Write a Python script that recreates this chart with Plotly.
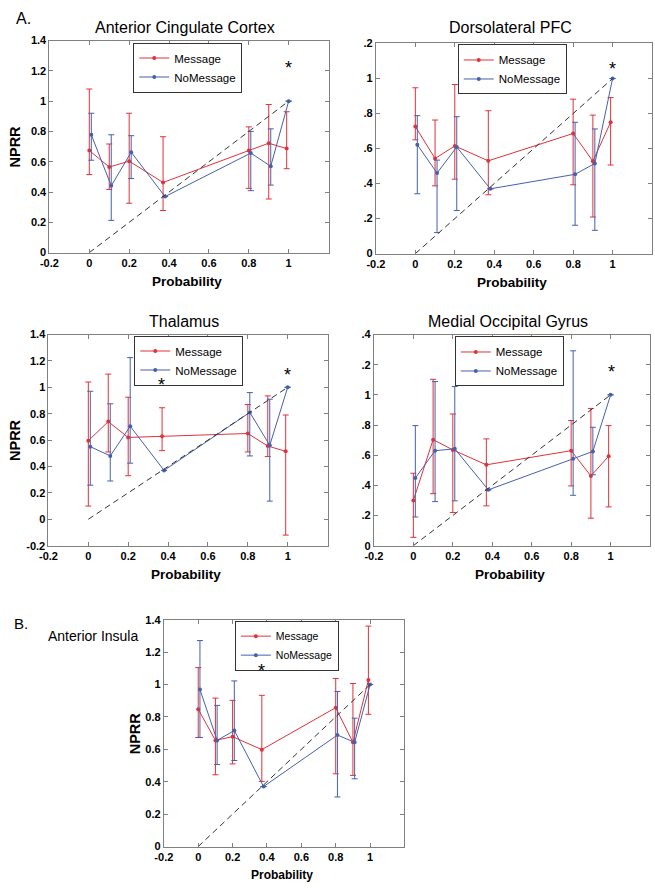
import plotly.graph_objects as go

# ---------------- data ----------------
prob_message = [0, 0.1, 0.2, 0.37, 0.8, 0.9, 0.99]
prob_nomessage = [0.01, 0.11, 0.21, 0.38, 0.81, 0.91, 1.0]
identity_x = [0, 1]
identity_y = [0, 1]

# Anterior Cingulate Cortex
acc_msg = [0.674, 0.565, 0.604, 0.463, 0.674, 0.722, 0.687]
acc_msg_hi = [1.08, 0.717, 0.92, 0.765, 0.83, 0.978, 0.93]
acc_msg_lo = [0.515, 0.417, 0.326, 0.278, 0.424, 0.354, 0.554]
acc_nomsg = [0.778, 0.441, 0.663, 0.37, 0.657, 0.57, 1.0]
acc_nomsg_hi = [0.92, 0.778, 0.772, 0.37, 0.80, 0.817, 1.0]
acc_nomsg_lo = [0.61, 0.213, 0.489, 0.37, 0.409, 0.446, 1.0]

# Dorsolateral PFC
dlpfc_msg = [0.726, 0.543, 0.615, 0.53, 0.686, 0.528, 0.75]
dlpfc_msg_hi = [0.947, 0.763, 0.966, 0.816, 0.882, 0.791, 0.891]
dlpfc_msg_lo = [0.65, 0.387, 0.425, 0.336, 0.393, 0.209, 0.506]
dlpfc_nomsg = [0.622, 0.46, 0.609, 0.37, 0.453, 0.515, 1.0]
dlpfc_nomsg_hi = [0.788, 0.534, 0.782, 0.37, 0.75, 0.712, 1.0]
dlpfc_nomsg_lo = [0.342, 0.12, 0.246, 0.37, 0.162, 0.133, 1.0]

# Thalamus
thal_msg = [0.595, 0.74, 0.62, 0.63, 0.65, 0.555, 0.515]
thal_msg_hi = [1.04, 1.10, 0.925, 0.845, 0.87, 0.935, 0.79]
thal_msg_lo = [0.10, 0.51, 0.33, 0.52, 0.51, 0.475, -0.12]
thal_nomsg = [0.55, 0.48, 0.705, 0.37, 0.81, 0.56, 1.0]
thal_nomsg_hi = [0.97, 0.875, 1.225, 0.37, 0.96, 0.91, 1.0]
thal_nomsg_lo = [0.258, 0.29, 0.425, 0.37, 0.48, 0.1375, 1.0]

# Medial Occipital Gyrus
mog_msg = [0.30, 0.703, 0.635, 0.536, 0.63, 0.462, 0.593]
mog_msg_hi = [0.48, 1.103, 0.873, 0.708, 0.83, 0.91, 0.796]
mog_msg_lo = [0.055, 0.345, 0.22, 0.264, 0.396, 0.182, 0.257]
mog_nomsg = [0.448, 0.63, 0.642, 0.37, 0.576, 0.625, 1.0]
mog_nomsg_hi = [0.796, 1.088, 1.055, 0.37, 1.292, 0.785, 1.0]
mog_nomsg_lo = [0.19, 0.292, 0.297, 0.37, 0.334, 0.47, 1.0]

# Anterior Insula
ai_msg = [0.847, 0.655, 0.678, 0.598, 0.857, 0.643, 1.027]
ai_msg_hi = [1.104, 0.916, 0.902, 0.933, 1.037, 1.006, 1.36]
ai_msg_lo = [0.673, 0.443, 0.51, 0.402, 0.449, 0.439, 0.816]
ai_nomsg = [0.969, 0.655, 0.716, 0.37, 0.688, 0.643, 1.0]
ai_nomsg_hi = [1.271, 0.871, 1.022, 0.37, 0.957, 0.792, 1.0]
ai_nomsg_lo = [0.673, 0.506, 0.531, 0.37, 0.306, 0.418, 1.0]

# significance stars (x, y) per panel
acc_stars = [(1.0, 1.22)]
dlpfc_stars = [(1.0, 1.055)]
thal_stars = [(0.368, 1.02), (1.0, 1.095)]
mog_stars = [(1.005, 1.15)]
ai_stars = [(0.37, 1.085)]

x_tickvals = [-0.2, 0, 0.2, 0.4, 0.6, 0.8, 1]
x_ticktext = ["-0.2", "0", "0.2", "0.4", "0.6", "0.8", "1"]

y_ticks_a = [0, 0.2, 0.4, 0.6, 0.8, 1, 1.2, 1.4]
y_text_a = ["0", "0.2", "0.4", "0.6", "0.8", "1", "1.2", "1.4"]
y_ticks_dlpfc = [0, 0.2, 0.4, 0.6, 0.8, 1, 1.2]
y_text_dlpfc = ["0", ".2", ".4", ".6", ".8", "1", ".2"]
y_ticks_thal = [-0.2, 0, 0.2, 0.4, 0.6, 0.8, 1, 1.2, 1.4]
y_text_thal = ["-0.2", "0", "0.2", "0.4", "0.6", "0.8", "1", "1.2", "1.4"]
y_text_mog = ["0", ".2", ".4", ".6", ".8", "1", ".2", ".4"]

# ---------------- styling ----------------
W, H = 655, 893
RED = "#e0323a"
BLUE = "#4561ad"
AXC = "#808080"
FONT = "Arial, Liberation Sans, sans-serif"


def fx(px):
    return px / W


def fy(py):
    return 1 - py / H


panels = [
    dict(title="Anterior Cingulate Cortex", box=(41, 35, 324, 250), yr=[0, 1.4],
         yt=(y_ticks_a, y_text_a), d=(acc_msg, acc_msg_hi, acc_msg_lo, acc_nomsg, acc_nomsg_hi, acc_nomsg_lo),
         stars=acc_stars, leg=(126, 37), ylab=True),
    dict(title="Dorsolateral PFC", box=(372, 38, 652, 251), yr=[0, 1.2],
         yt=(y_ticks_dlpfc, y_text_dlpfc), d=(dlpfc_msg, dlpfc_msg_hi, dlpfc_msg_lo, dlpfc_nomsg, dlpfc_nomsg_hi, dlpfc_nomsg_lo),
         stars=dlpfc_stars, leg=(455, 39), ylab=False),
    dict(title="Thalamus", box=(40, 333, 323, 547), yr=[-0.2, 1.4],
         yt=(y_ticks_thal, y_text_thal), d=(thal_msg, thal_msg_hi, thal_msg_lo, thal_nomsg, thal_nomsg_hi, thal_nomsg_lo),
         stars=thal_stars, leg=(127, 334), ylab=True),
    dict(title="Medial Occipital Gyrus", box=(370, 333, 650, 547), yr=[0, 1.4],
         yt=(y_ticks_a, y_text_mog), d=(mog_msg, mog_msg_hi, mog_msg_lo, mog_nomsg, mog_nomsg_hi, mog_nomsg_lo),
         stars=mog_stars, leg=(452, 335), ylab=False),
    dict(title="Anterior Insula", box=(157, 622, 401, 852), yr=[0, 1.4],
         yt=(y_ticks_a, y_text_a), d=(ai_msg, ai_msg_hi, ai_msg_lo, ai_nomsg, ai_nomsg_hi, ai_nomsg_lo),
         stars=ai_stars, leg=(229, 623), ylab=True),
]

fig = go.Figure()
annotations = []
layout = dict(
    width=W, height=H, margin=dict(l=0, r=0, t=0, b=0),
    paper_bgcolor="white", plot_bgcolor="white",
    font=dict(family=FONT, color="black"),
    showlegend=True,
)

for i, p in enumerate(panels, start=1):
    sx = "" if i == 1 else str(i)
    xa, ya = "x" + sx, "y" + sx
    lg = "legend" if i == 1 else "legend" + str(i)
    m, mhi, mlo, n, nhi, nlo = p["d"]
    is_b = (i == 5)

    fig.add_trace(go.Scatter(
        x=prob_message, y=m, mode="lines+markers", name="Message",
        line=dict(color=RED, width=1), marker=dict(color=RED, size=4),
        error_y=dict(type="data", symmetric=False,
                     array=[h - v for h, v in zip(mhi, m)],
                     arrayminus=[v - lo for v, lo in zip(m, mlo)],
                     color=RED, thickness=1, width=3),
        xaxis=xa, yaxis=ya, legend=lg))
    fig.add_trace(go.Scatter(
        x=prob_nomessage, y=n, mode="lines+markers", name="NoMessage",
        line=dict(color=BLUE, width=1), marker=dict(color=BLUE, size=4),
        error_y=dict(type="data", symmetric=False,
                     array=[h - v for h, v in zip(nhi, n)],
                     arrayminus=[v - lo for v, lo in zip(n, nlo)],
                     color=BLUE, thickness=1, width=3),
        xaxis=xa, yaxis=ya, legend=lg))
    fig.add_trace(go.Scatter(
        x=identity_x, y=identity_y, mode="lines", showlegend=False,
        line=dict(color="#333333", width=1, dash="6px,4px"),
        xaxis=xa, yaxis=ya))

    l, t, r, b = p["box"]
    axis_common = dict(showline=True, linecolor=AXC, linewidth=1, mirror="ticks",
                       ticks="inside", ticklen=4, tickcolor=AXC, showgrid=False,
                       zeroline=False, tickfont=dict(family=FONT, size=11, weight="bold"))
    layout["xaxis" + sx] = dict(domain=[fx(l), fx(r)], range=[-0.2, 1.2], anchor=ya,
                                tickmode="array", tickvals=x_tickvals, ticktext=x_ticktext,
                                **axis_common)
    layout["yaxis" + sx] = dict(domain=[fy(b), fy(t)], range=p["yr"], anchor=xa,
                                tickmode="array", tickvals=p["yt"][0], ticktext=p["yt"][1],
                                **axis_common)
    lx, ly = p["leg"]
    layout[lg] = dict(x=fx(lx), y=fy(ly), xanchor="left", yanchor="top",
                      bgcolor="white", bordercolor="#333333", borderwidth=1,
                      font=dict(family=FONT, size=10.5 if is_b else 11.5), tracegroupgap=0,
                      itemwidth=30)

    cx = (l + r) / 2
    # title
    if is_b:
        annotations.append(dict(text=p["title"], x=fx(38), y=fy(639), xref="paper", yref="paper",
                                xanchor="left", yanchor="middle", showarrow=False,
                                font=dict(family=FONT, size=14)))
    else:
        ty = 22 if t < 100 else 320
        annotations.append(dict(text=p["title"], x=fx(cx - 4), y=fy(ty), xref="paper", yref="paper",
                                xanchor="center", yanchor="middle", showarrow=False,
                                font=dict(family=FONT, size=16)))
    # x title
    annotations.append(dict(text="Probability", x=fx(cx - 2), y=fy(b + 29), xref="paper", yref="paper",
                            xanchor="center", yanchor="middle", showarrow=False,
                            font=dict(family=FONT, size=12 if is_b else 13.5, weight="bold")))
    # y title
    if p["ylab"]:
        yx = 128 if is_b else 6
        annotations.append(dict(text="NPRR", x=fx(yx), y=fy((t + b) / 2), xref="paper", yref="paper",
                                xanchor="center", yanchor="middle", textangle=-90, showarrow=False,
                                font=dict(family=FONT, size=14.5, weight="bold")))
    for (sxv, syv) in p["stars"]:
        annotations.append(dict(text="*", x=sxv, y=syv, xref=xa, yref=ya, showarrow=False,
                                xanchor="center", yanchor="middle",
                                font=dict(family=FONT, size=18, color="black")))

annotations.append(dict(text="A.", x=fx(5), y=fy(13), xref="paper", yref="paper",
                        xanchor="left", yanchor="middle", showarrow=False,
                        font=dict(family=FONT, size=16)))
annotations.append(dict(text="B.", x=fx(3), y=fy(626), xref="paper", yref="paper",
                        xanchor="left", yanchor="middle", showarrow=False,
                        font=dict(family=FONT, size=15)))

layout["annotations"] = annotations
fig.update_layout(**layout)

fig.write_html("out.html", config={"displayModeBar": False},
               post_script="document.body.style.margin='0';document.body.style.overflow='hidden';")
